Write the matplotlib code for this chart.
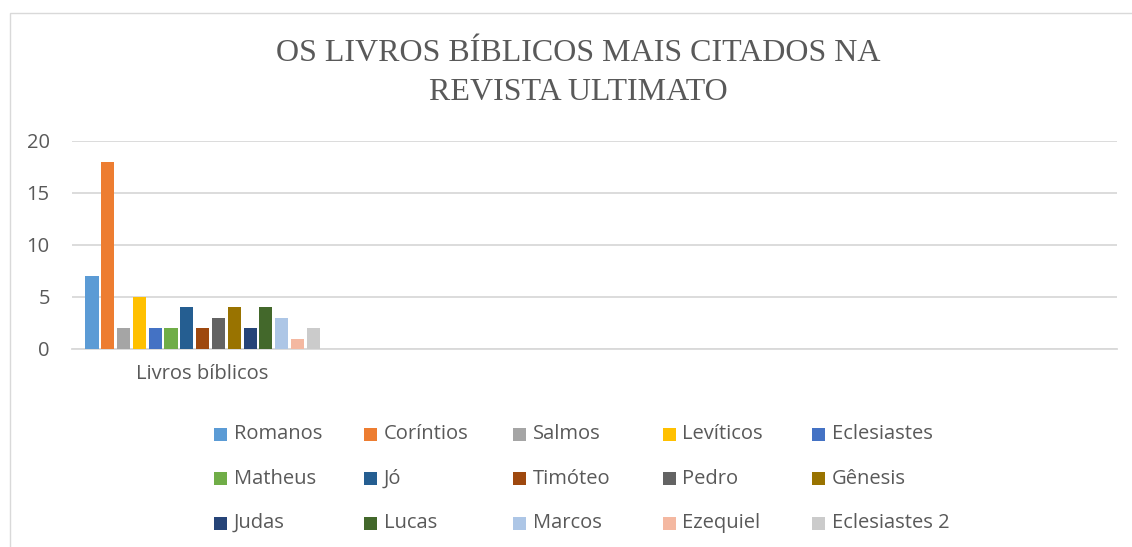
import matplotlib
matplotlib.use("Agg")
import matplotlib.pyplot as plt
from matplotlib.patches import Rectangle
import numpy as np

title = "OS LIVROS BÍBLICOS MAIS CITADOS NA\nREVISTA ULTIMATO"
categories = ["Livros bíblicos", "", "", ""]
series_names = ["Romanos", "Coríntios", "Salmos", "Levíticos", "Eclesiastes",
                "Matheus", "Jó", "Timóteo", "Pedro", "Gênesis",
                "Judas", "Lucas", "Marcos", "Ezequiel", "Eclesiastes 2"]
series_values = [7, 18, 2, 5, 2, 2, 4, 2, 3, 4, 2, 4, 3, 1, 2]
series_colors = ["#5B9BD5", "#ED7D31", "#A5A5A5", "#FFC000", "#4472C4",
                 "#70AD47", "#255E91", "#9E480E", "#636363", "#997300",
                 "#264478", "#43682B", "#ADC6E6", "#F4B8A1", "#CBCBCB"]
yticks = [0, 5, 10, 15, 20]

W, H = 1132, 547
fig = plt.figure(figsize=(W / 100, H / 100), dpi=100)
fig.patch.set_facecolor("white")

FONT = "Open Sans"
FS = 14.5
TXT = "#595959"

# chart border
fig.add_artist(Rectangle((10 / W, -0.01), 1.2, (H - 13) / H + 0.01, transform=fig.transFigure,
                         fill=False, edgecolor="#D9D9D9", linewidth=1.0))

ax = fig.add_axes([72 / W, (H - 349) / H, (1117 - 72) / W, (349 - 140.7) / H])
n = len(series_names)
pitch = 0.0605
width = 0.05
for i, (name, val, col) in enumerate(zip(series_names, series_values, series_colors)):
    off = (i - (n - 1) / 2) * pitch
    ax.bar([0 + off], [val], width=width, color=col, zorder=3)

ax.set_xlim(-0.5, len(categories) - 0.5)
ax.set_ylim(0, 20)
ax.set_yticks(yticks)
ax.set_xticks(range(len(categories)))
ax.set_xticklabels(categories)
ax.yaxis.grid(True, color="#D9D9D9", linewidth=1.3, zorder=0)
for s in ["top", "right", "left"]:
    ax.spines[s].set_visible(False)
ax.spines["bottom"].set_color("#D9D9D9")
ax.spines["bottom"].set_linewidth(1.3)
ax.tick_params(axis="both", length=0, labelsize=FS, labelcolor=TXT)
ax.tick_params(axis="y", pad=16)
ax.tick_params(axis="x", pad=11)
for lab in ax.get_xticklabels() + ax.get_yticklabels():
    lab.set_family(FONT)

fig.text(578 / W, 1 - 73 / H, title, ha="center", va="center", family="Liberation Serif",
         fontsize=23.0, color=TXT, linespacing=1.42)

# legend
col_x = [220.5, 370, 519.5, 669, 818.5]
row_y = [434, 478.5, 523]
for i, (name, col) in enumerate(zip(series_names, series_colors)):
    r, c = divmod(i, 5)
    cx, cy = col_x[c], row_y[r]
    fig.add_artist(Rectangle(((cx - 6.5) / W, 1 - (cy + 6.5) / H), 13 / W, 13 / H,
                             transform=fig.transFigure, facecolor=col, edgecolor="none"))
    fig.text((cx + 13.5) / W, 1 - cy / H, name, ha="left", va="center", family=FONT,
             fontsize=FS, color=TXT)

fig.savefig("out.png", dpi=100)
